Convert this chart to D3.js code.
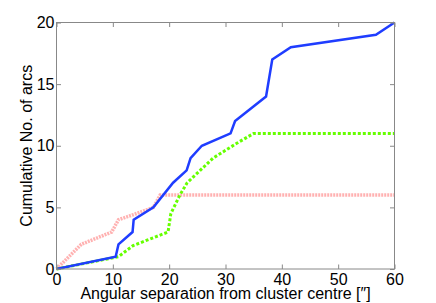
<!DOCTYPE html>
<html><head><meta charset="utf-8">
<script src="https://cdn.jsdelivr.net/npm/d3@7"></script>
<style>body{margin:0;background:#fff}svg{display:block}text{font-family:"Liberation Sans",Arial,sans-serif}</style>
</head><body>
<svg id="c" width="436" height="303"></svg>
<script>
const blueX = [0, 10.5, 11, 13.5, 13.7, 17.2, 20.7, 23.1, 23.8, 25.8, 30.9, 31.7, 37.2, 38.3, 41.6, 56.7, 60];
const blueY = [0, 1, 2, 3, 4, 5, 7, 8, 9, 10, 11, 12, 14, 17, 18, 19, 20];
const greenX = [0, 11, 13.6, 19.8, 20.3, 21.9, 23.2, 25.5, 27.8, 32, 35, 60];
const greenY = [0, 1, 1.9, 3, 4.5, 6, 7, 8, 9, 10.2, 11, 11];
const redX = [0, 4.4, 9.8, 11, 13.6, 17.2, 18.4, 60];
const redY = [0, 2, 3, 4, 4.4, 5, 6, 6];
const xTicks = [0, 10, 20, 30, 40, 50, 60];
const yTicks = [0, 5, 10, 15, 20];
const xLabel = "Angular separation from cluster centre [\u2033]";
const yLabel = "Cumulative No. of arcs";

const svg = d3.select("#c");
const L = 56.5, R = 394.5, T = 22.5, B = 269;
const x = d3.scaleLinear().domain([0, 60]).range([L, R]);
const y = d3.scaleLinear().domain([0, 20]).range([B, T]);

const line = d3.line().x(d => x(d[0])).y(d => y(d[1]));
const zip = (a, b) => a.map((v, i) => [v, b[i]]);

const g = svg.append("g");
g.append("path").datum(zip(redX, redY)).attr("d", line)
  .attr("fill", "none").attr("stroke", "#ff9090").attr("stroke-opacity", 0.7)
  .attr("stroke-width", 3.5).attr("stroke-dasharray", "2,1");
g.append("path").datum(zip(greenX, greenY)).attr("d", line)
  .attr("fill", "none").attr("stroke", "#66ff00")
  .attr("stroke-width", 3).attr("stroke-dasharray", "3,2");
g.append("path").datum(zip(blueX, blueY)).attr("d", line)
  .attr("fill", "none").attr("stroke", "#1f3dff")
  .attr("stroke-width", 2.5).attr("stroke-linejoin", "miter");

const axisColor = "#888";
const tl = 4.5;
const ax = svg.append("g");
ax.append("g").attr("transform", `translate(0,${B})`)
  .call(d3.axisBottom(x).tickValues(xTicks).tickSize(-tl).tickPadding(5).tickSizeOuter(0))
  .call(s => s.select(".domain").remove());
ax.append("g").attr("transform", `translate(0,${T})`)
  .call(d3.axisTop(x).tickValues(xTicks).tickSize(-tl).tickFormat("").tickSizeOuter(0))
  .call(s => s.select(".domain").remove());
ax.append("g").attr("transform", `translate(${L},0)`)
  .call(d3.axisLeft(y).tickValues(yTicks).tickSize(-tl).tickPadding(2).tickSizeOuter(0))
  .call(s => s.select(".domain").remove());
ax.append("g").attr("transform", `translate(${R},0)`)
  .call(d3.axisRight(y).tickValues(yTicks).tickSize(-tl).tickFormat("").tickSizeOuter(0))
  .call(s => s.select(".domain").remove());
ax.selectAll(".tick line").attr("stroke", axisColor);
ax.selectAll(".tick text").attr("fill", "#000").style("font-size", "16px")
  .style("font-family", "'Liberation Sans', Arial, sans-serif");
svg.append("rect").attr("x", L).attr("y", T).attr("width", R - L).attr("height", B - T)
  .attr("fill", "none").attr("stroke", axisColor).attr("stroke-width", 1);

svg.append("text").attr("x", (L + R) / 2).attr("y", 299).attr("text-anchor", "middle")
  .style("font-size", "16px").text(xLabel);
svg.append("text").attr("transform", `translate(32,${(T + B) / 2}) rotate(-90)`)
  .attr("text-anchor", "middle").style("font-size", "16px").text(yLabel);
</script>
</body></html>
